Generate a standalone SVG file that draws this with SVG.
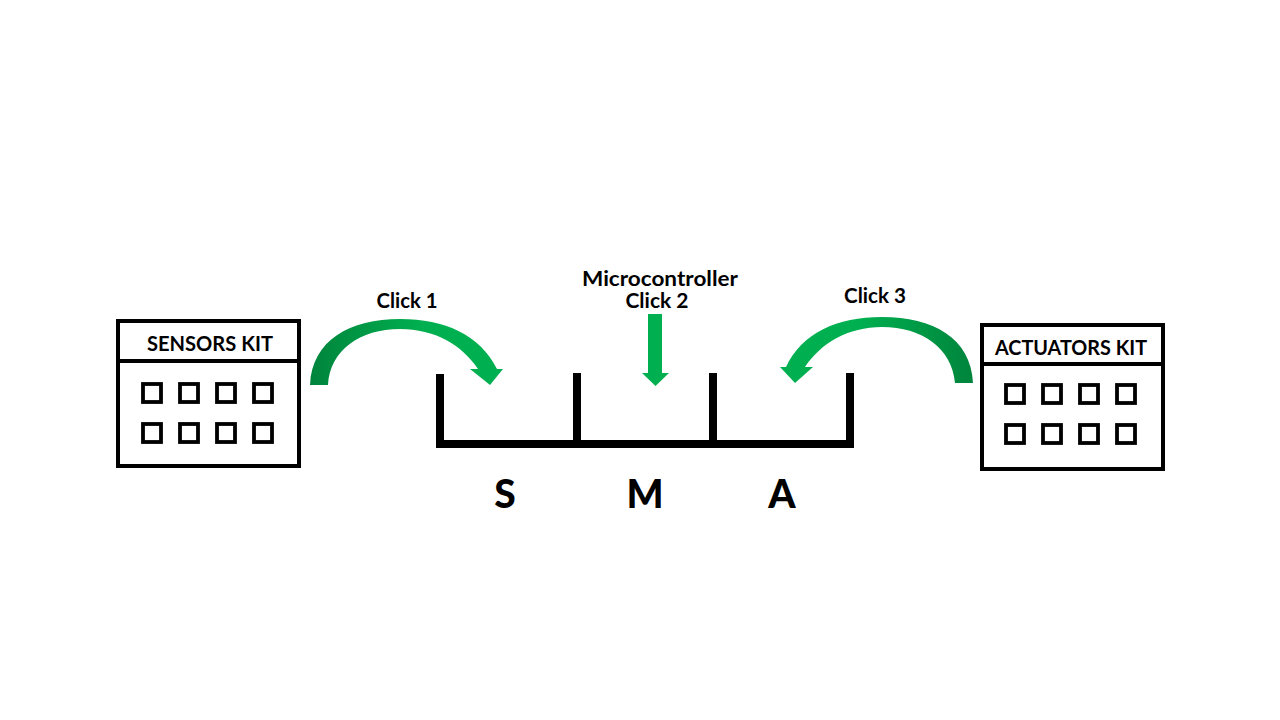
<svg xmlns="http://www.w3.org/2000/svg" width="1280" height="720" viewBox="0 0 1280 720">
<style>
.t{font-family:Lato,"Open Sans","Liberation Sans",sans-serif;font-weight:bold;fill:#000;text-anchor:middle}
.box{fill:#fff;stroke:#000;stroke-width:4}
.sq{fill:none;stroke:#000;stroke-width:3.8}
.tray{fill:none;stroke:#000;stroke-width:8}
</style>
<defs>
<linearGradient id="g1" gradientUnits="userSpaceOnUse" x1="310" y1="0" x2="500" y2="0">
<stop offset="0" stop-color="#00843C"/><stop offset="0.6" stop-color="#00B050"/><stop offset="1" stop-color="#00B050"/>
</linearGradient>
<linearGradient id="g3" gradientUnits="userSpaceOnUse" x1="973" y1="0" x2="782" y2="0">
<stop offset="0" stop-color="#00843C"/><stop offset="0.6" stop-color="#00B050"/><stop offset="1" stop-color="#00B050"/>
</linearGradient>
<g id="squares">
<rect class="sq" x="143" y="384" width="18" height="18"/>
<rect class="sq" x="180" y="384" width="18" height="18"/>
<rect class="sq" x="217" y="384" width="18" height="18"/>
<rect class="sq" x="254" y="384" width="18" height="18"/>
<rect class="sq" x="143" y="424" width="18" height="18"/>
<rect class="sq" x="180" y="424" width="18" height="18"/>
<rect class="sq" x="217" y="424" width="18" height="18"/>
<rect class="sq" x="254" y="424" width="18" height="18"/>
</g>
</defs>
<rect width="1280" height="720" fill="#fff"/>
<g id="sensors-kit">
<rect class="box" x="118" y="321" width="181" height="145"/>
<line x1="118" y1="361" x2="299" y2="361" stroke="#000" stroke-width="4"/>
<text class="t" x="210" y="351" font-size="20" textLength="126" lengthAdjust="spacingAndGlyphs">SENSORS KIT</text>
<use href="#squares"/>
</g>
<g id="actuators-kit">
<rect class="box" x="982" y="325" width="181" height="144"/>
<line x1="982" y1="364" x2="1163" y2="364" stroke="#000" stroke-width="4"/>
<text class="t" x="1071" y="355" font-size="20" textLength="152" lengthAdjust="spacingAndGlyphs">ACTUATORS KIT</text>
<use href="#squares" transform="translate(863,1)"/>
</g>
<g id="tray">
<path class="tray" d="M440,374 V444 H850 V373"/>
<line class="tray" x1="577" y1="373" x2="577" y2="444"/>
<line class="tray" x1="713" y1="373" x2="713" y2="444"/>
<text class="t" x="505" y="508" font-size="39" style="font-weight:900">S</text>
<text class="t" x="645" y="508" font-size="39" style="font-weight:900">M</text>
<text class="t" x="782" y="508" font-size="39" style="font-weight:900">A</text>
</g>
<g id="connectors">
<path fill="url(#g1)" d="M310,385 C312,340 350,319 400,319 C445,319 480,335 497,369 L503,369 L490,385 L470,369 L478,369 C462,345 435,329 400,329 C360,329 330,350 328,385 Z"/>
<path fill="#00B050" d="M648,314 H662 V373 H669 L655.5,386 L642,373 H648 Z"/>
<path fill="url(#g3)" d="M973,383 C971,338 933,317 882,317 C837,317 802,333 786,367 L780,367 L795,383 L813,367 L805,367 C821,343 848,327 882,327 C922,327 952,348 955,383 Z"/>
</g>
<g id="labels">
<text class="t" x="407" y="308" font-size="20" textLength="61" lengthAdjust="spacingAndGlyphs">Click 1</text>
<text class="t" x="660" y="286" font-size="20" textLength="156" lengthAdjust="spacingAndGlyphs">Microcontroller</text>
<text class="t" x="657" y="308" font-size="20" textLength="63" lengthAdjust="spacingAndGlyphs">Click 2</text>
<text class="t" x="875" y="303" font-size="20" textLength="62" lengthAdjust="spacingAndGlyphs">Click 3</text>
</g>
</svg>
